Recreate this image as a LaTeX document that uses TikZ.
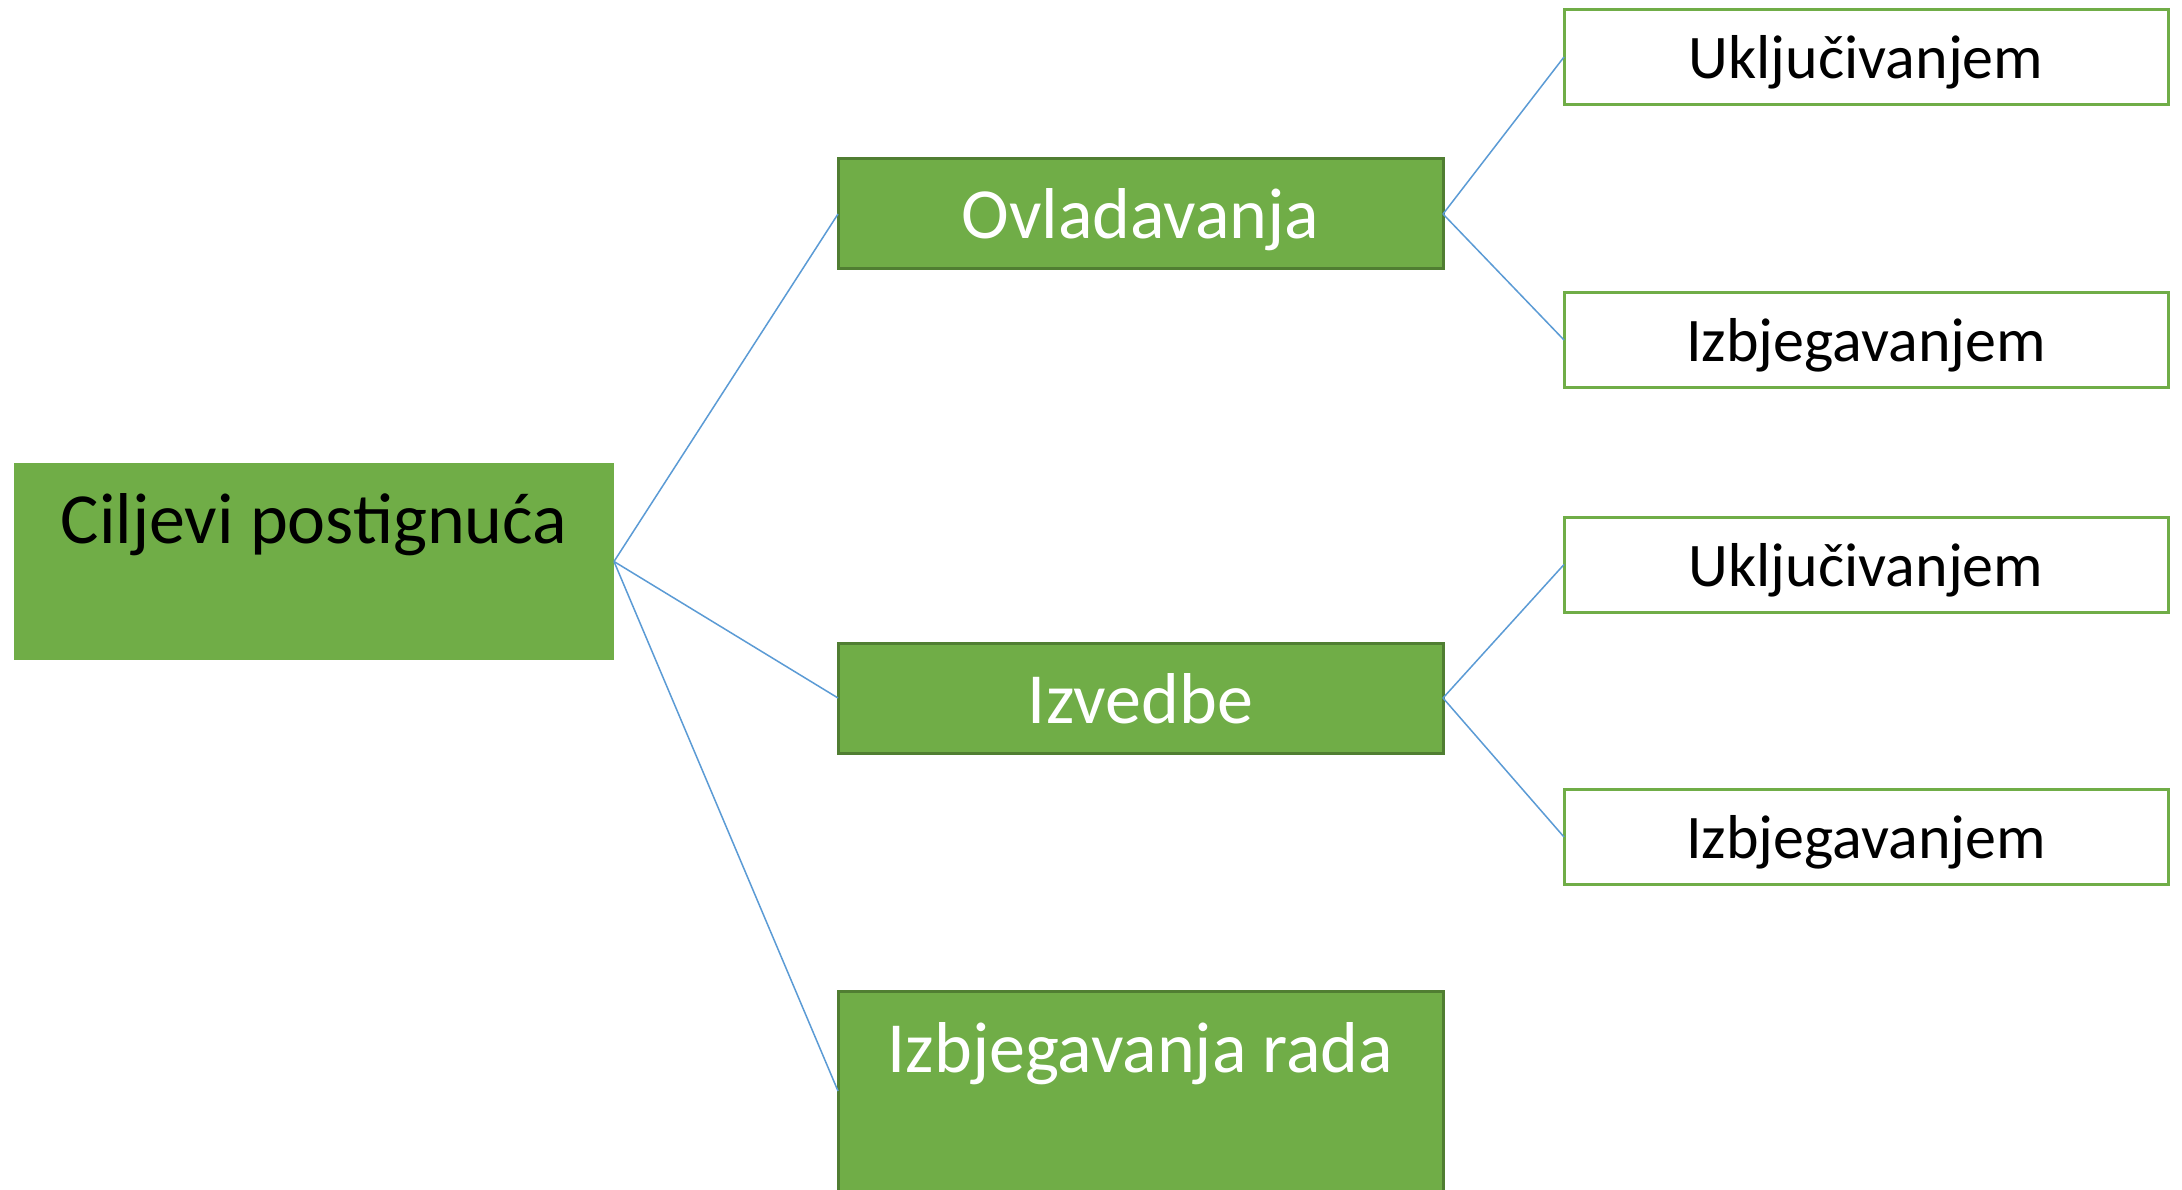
\documentclass[tikz,border=0pt]{standalone}
\usepackage{fontspec}
\setmainfont{Carlito}
\definecolor{gfill}{HTML}{70AD47}
\definecolor{gdark}{HTML}{507E32}
\definecolor{lblue}{HTML}{5B9BD5}
\begin{document}
\begin{tikzpicture}[x=1pt,y=-1pt,
  box/.style={rectangle, inner sep=0pt, outer sep=0pt, align=center},
  mainbox/.style={box, fill=gfill, draw=gdark, line width=3pt, minimum width=605pt,
    text=white, font=\fontsize{72}{86}\selectfont},
  leaf/.style={box, fill=white, draw=gfill, line width=3pt, minimum width=604pt,
    text height=69pt, text depth=26pt, font=\fontsize{62}{74}\selectfont},
  link/.style={draw=lblue, line width=1.5pt}]
\useasboundingbox (0,0) rectangle (2182,1190);
\fill[white] (0,0) rectangle (2182,1190);

\node[box, fill=gfill, minimum width=600pt, text height=80pt, text depth=117pt,
  font=\fontsize{72}{86}\selectfont] (cilj) at (314,561.5) {Ciljevi postignuća};

\node[mainbox, text height=80pt, text depth=30pt] (ovl) at (1140.5,214) {Ovladavanja};
\node[mainbox, text height=80pt, text depth=30pt] (izv) at (1140.5,698) {Izvedbe};
\node[mainbox, text height=81pt, text depth=119pt] (izr) at (1140.5,1091) {Izbjegavanja rada};

\node[leaf] (u1) at (1866,57) {Uključivanjem};
\node[leaf] (i1) at (1866,340) {Izbjegavanjem};
\node[leaf] (u2) at (1866,564.5) {Uključivanjem};
\node[leaf] (i2) at (1866,837) {Izbjegavanjem};

\draw[link] (cilj.east) -- (ovl.west);
\draw[link] (cilj.east) -- (izv.west);
\draw[link] (cilj.east) -- (izr.west);
\draw[link] (ovl.east) -- (u1.west);
\draw[link] (ovl.east) -- (i1.west);
\draw[link] (izv.east) -- (u2.west);
\draw[link] (izv.east) -- (i2.west);
\end{tikzpicture}
\end{document}
